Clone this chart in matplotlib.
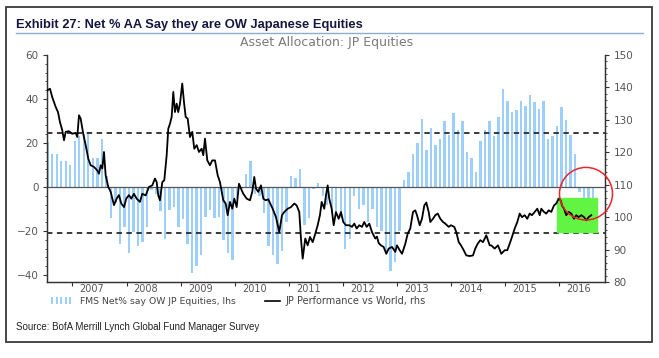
import numpy as np
import matplotlib
matplotlib.use("Agg")
import matplotlib.pyplot as plt
from matplotlib.patches import Rectangle, Ellipse
from matplotlib.lines import Line2D
from matplotlib.ticker import MultipleLocator

# ── Data ─────────────────────────────────────────────────────────────────────
# FMS net % say overweight Japanese equities, monthly from mid-2006 (lhs)
bar_start = 2006.542
bar_vals = [
    20.5, 15, 15, 12, 12, 10, 21, 23, 24, 25,
    13, 13, 22, 5, -14, -7.5, -26, -18, -30, -20.5,
    -27, -25, -18, -1.5, -3, -11, -23.5, -10.5, -9, -18,
    -14.5, -26, -39, -36, -31, -13.5, -10.5, -14, -13.5, -24,
    -30, -33, -5, -1, 6, 12, -3, -4, -12, -27,
    -31, -35, -29, -16, 5, 4, 8, -17.5, -14, -1,
    2, -4, -8, -12, -11, -14, -28, -23.5, -4, -10,
    -8, -16, -10, -18, -20, -29.5, -38, -34, -20, 3,
    6.8, 15, 20, 30.8, 16.7, 26.8, 19, 22, 30, 23.5,
    33.8, 25.8, 30, 16, 13, 6.8, 21, 25.8, 30, 23,
    31.8, 44.7, 39, 34, 35, 39, 37, 41.7, 38.6, 35.6,
    39, 22, 23, 27.6, 36.5, 30.6, 23.5, 15, -2.3, -5,
    -5, -5,
]

# JP performance vs World (rhs), decimal years
line_dates = [
    2006.534, 2006.584, 2006.626, 2006.689, 2006.732, 2006.769, 2006.811, 2006.843,
    2006.874, 2006.935, 2006.996, 2007.059, 2007.089, 2007.120, 2007.151, 2007.199,
    2007.244, 2007.292, 2007.336, 2007.397, 2007.458, 2007.490, 2007.521, 2007.551,
    2007.582, 2007.613, 2007.662, 2007.706, 2007.767, 2007.817, 2007.859, 2007.902,
    2007.952, 2007.994, 2008.044, 2008.087, 2008.136, 2008.186, 2008.247, 2008.290,
    2008.353, 2008.414, 2008.475, 2008.525, 2008.556, 2008.586, 2008.617, 2008.660,
    2008.697, 2008.741, 2008.771, 2008.802, 2008.833, 2008.863, 2008.894, 2008.926,
    2008.955, 2008.987, 2009.029, 2009.061, 2009.092, 2009.129, 2009.172, 2009.214,
    2009.251, 2009.296, 2009.338, 2009.388, 2009.418, 2009.449, 2009.492, 2009.541,
    2009.584, 2009.634, 2009.684, 2009.726, 2009.758, 2009.787, 2009.832, 2009.869,
    2009.911, 2009.954, 2009.991, 2010.035, 2010.078, 2010.114, 2010.157, 2010.220,
    2010.281, 2010.323, 2010.360, 2010.392, 2010.434, 2010.484, 2010.527, 2010.571,
    2010.619, 2010.700, 2010.761, 2010.822, 2010.872, 2010.915, 2010.978, 2011.039,
    2011.100, 2011.144, 2011.192, 2011.223, 2011.255, 2011.303, 2011.347, 2011.390,
    2011.440, 2011.488, 2011.532, 2011.574, 2011.606, 2011.654, 2011.685, 2011.717,
    2011.746, 2011.791, 2011.828, 2011.870, 2011.920, 2011.963, 2012.005, 2012.055,
    2012.116, 2012.166, 2012.209, 2012.253, 2012.301, 2012.351, 2012.393, 2012.438,
    2012.486, 2012.536, 2012.597, 2012.628, 2012.660, 2012.702, 2012.752, 2012.800,
    2012.845, 2012.906, 2012.967, 2012.998, 2013.048, 2013.091, 2013.152, 2013.196,
    2013.244, 2013.294, 2013.336, 2013.368, 2013.418, 2013.460, 2013.503, 2013.540,
    2013.584, 2013.614, 2013.664, 2013.706, 2013.751, 2013.799, 2013.849, 2013.891,
    2013.954, 2013.996, 2014.057, 2014.094, 2014.139, 2014.181, 2014.231, 2014.279,
    2014.342, 2014.403, 2014.445, 2014.490, 2014.538, 2014.588, 2014.649, 2014.712,
    2014.741, 2014.804, 2014.865, 2014.926, 2014.989, 2015.037, 2015.081, 2015.124,
    2015.174, 2015.222, 2015.266, 2015.308, 2015.358, 2015.406, 2015.451, 2015.493,
    2015.543, 2015.592, 2015.636, 2015.665, 2015.715, 2015.757, 2015.802, 2015.850,
    2015.900, 2015.942, 2015.987, 2016.024, 2016.048, 2016.085, 2016.127, 2016.172,
    2016.220, 2016.270, 2016.312, 2016.357, 2016.405, 2016.455, 2016.497, 2016.541,
    2016.589,
]
line_vals = [
    139.1, 139.6, 137.0, 134.0, 132.4, 129.3, 126.8, 123.7,
    126.3, 126.5, 125.7, 126.0, 124.7, 131.4, 130.4, 125.7,
    122.2, 118.0, 116.0, 115.5, 114.4, 113.4, 116.0, 115.0,
    120.1, 112.9, 109.3, 107.8, 103.7, 105.7, 106.8, 104.2,
    103.1, 105.7, 106.8, 105.7, 107.2, 105.7, 104.7, 107.2,
    106.7, 109.3, 109.8, 111.9, 110.8, 106.7, 105.2, 110.8,
    111.4, 119.1, 127.3, 128.8, 130.9, 138.6, 132.4, 135.0,
    132.4, 135.0, 141.2, 135.5, 130.9, 130.4, 124.7, 126.3,
    121.1, 122.2, 120.1, 121.1, 119.1, 124.2, 117.5, 116.0,
    117.5, 117.5, 112.9, 110.8, 107.8, 105.2, 104.2, 100.6,
    104.7, 102.6, 105.7, 103.1, 110.3, 108.8, 107.2, 105.7,
    105.2, 107.8, 112.4, 108.8, 107.8, 109.8, 105.7, 105.2,
    105.5, 102.6, 100.0, 95.4, 100.6, 101.6, 102.6, 103.1,
    104.2, 103.6, 101.6, 93.4, 87.2, 93.4, 91.3, 93.9,
    92.3, 94.9, 97.5, 100.6, 104.7, 102.6, 106.7, 109.8,
    105.7, 102.6, 97.5, 101.6, 99.5, 101.6, 98.5, 97.5,
    97.5, 97.0, 98.0, 96.5, 97.5, 97.0, 98.5, 97.0,
    98.0, 95.4, 93.4, 94.0, 92.0, 91.3, 90.8, 88.7,
    90.3, 90.8, 89.3, 91.3, 89.8, 88.7, 91.8, 94.9,
    96.5, 101.6, 102.1, 100.6, 97.5, 99.5, 103.6, 104.5,
    101.6, 98.5, 99.5, 100.6, 101.1, 99.5, 98.5, 98.0,
    97.0, 97.5, 97.0, 95.4, 92.3, 91.3, 89.8, 88.2,
    88.0, 88.2, 90.3, 91.8, 92.9, 92.3, 94.4, 91.3,
    91.3, 90.3, 91.3, 88.7, 89.8, 89.8, 91.8, 93.9,
    96.5, 98.5, 101.1, 100.0, 100.6, 99.5, 101.1, 100.6,
    101.6, 102.6, 100.6, 102.6, 101.6, 101.1, 102.1, 101.6,
    103.6, 104.2, 105.7, 105.2, 103.6, 102.6, 100.6, 101.6,
    101.1, 99.5, 100.6, 100.0, 100.6, 100.0, 99.0, 100.0,
    100.6,
]

years = list(range(2007, 2017))
band_hi, band_lo = 24.5, -21.0          # dashed lines (lhs)
highlight = (2015.965, 2016.695, 95.4, 105.9)  # green box: x0, x1, y0, y1 (rhs)

BAR_C = "#9dcffa"

# ── Figure ───────────────────────────────────────────────────────────────────
W, H = 659, 358
fig = plt.figure(figsize=(W / 100, H / 100), dpi=100)
renderer = fig.canvas.get_renderer()


def fx(x):
    return x / W


def fy(y):
    return 1 - y / H


def fit(t, width_px):
    """ajusta o tamanho da fonte para a largura medida na referência"""
    w = t.get_window_extent(renderer).width
    t.set_fontsize(t.get_fontsize() * width_px / w)


# outer frame + header
fig.add_artist(Rectangle((fx(6), fy(342)), fx(652) - fx(6), fy(7) - fy(342),
                         transform=fig.transFigure, fill=False,
                         edgecolor="#3a3a3a", lw=1.3))
title = fig.text(fx(16), fy(25), "Exhibit 27: Net % AA Say they are OW Japanese Equities",
                 fontsize=10, fontweight="bold", color="#161640",
                 family="Liberation Sans", ha="left", va="center")
fit(title, 349)
fig.add_artist(Line2D([fx(16), fx(643)], [fy(32.5), fy(32.5)],
                      transform=fig.transFigure, color="#8eaad6", lw=1))
fig.text(fx(327), fy(42.5), "Asset Allocation: JP Equities", fontsize=9,
         color="#7a7a7a", ha="center", va="center")
src = fig.text(fx(16), fy(327), "Source: BofA Merrill Lynch Global Fund Manager Survey",
               fontsize=8, color="#222222", family="Liberation Sans",
               ha="left", va="center")
fit(src, 248)

# ── Axes ─────────────────────────────────────────────────────────────────────
ax = fig.add_axes([fx(47), fy(282), fx(605) - fx(47), fy(55) - fy(282)])
ax2 = ax.twinx()

bar_x = bar_start + np.arange(len(bar_vals)) / 12
ax.bar(bar_x, bar_vals, width=0.045, color=BAR_C, zorder=2)
ax.axhline(0, color="#555555", lw=0.9, zorder=3)
for lvl in (band_hi, band_lo):
    ax.axhline(lvl, color="#2a2a2a", lw=1.3, ls=(0, (3, 2.5)), zorder=3)

x0, x1, y0, y1 = highlight
ax2.add_patch(Rectangle((x0, y0), x1 - x0, y1 - y0, color="#62f442", zorder=1))
ax2.plot(line_dates, line_vals, color="black", lw=1.3, zorder=4)

ax.set_xlim(2006.529, 2016.843)
ax.set_ylim(-43.2, 60)
ax2.set_ylim(80, 150)

for a in (ax, ax2):
    a.spines["top"].set_visible(False)
    for s in ("left", "right", "bottom"):
        a.spines[s].set_color("#333333")
        a.spines[s].set_linewidth(0.9)

ax.set_yticks([-40, -20, 0, 20, 40, 60])
ax.yaxis.set_minor_locator(MultipleLocator(4))
ax2.set_yticks(range(80, 151, 10))
ax2.yaxis.set_minor_locator(MultipleLocator(2))
for a in (ax, ax2):
    a.tick_params(axis="y", which="major", length=3, width=0.8, color="#333333",
                  labelsize=7.5, labelcolor="#555555", pad=3)
    a.tick_params(axis="y", which="minor", length=1.6, width=0.6, color="#333333")

ax.set_xticks(years)
ax.set_xticklabels([])
ax.set_xticks([y + 0.36 for y in years], minor=True)
ax.set_xticklabels([str(y) for y in years], minor=True)
ax.tick_params(axis="x", which="major", length=3, width=0.8, color="#333333")
ax.tick_params(axis="x", which="minor", length=0, labelsize=7,
               labelcolor="#555555", pad=1.5)

# ── Legend (drawn by hand) ───────────────────────────────────────────────────
for i in range(5):
    fig.add_artist(Rectangle((fx(51 + i * 4.5), fy(304)), fx(2), fy(297) - fy(304),
                             transform=fig.transFigure, color=BAR_C, lw=0))
leg1 = fig.text(fx(80), fy(301), "FMS Net% say OW JP Equities, lhs", fontsize=6,
                color="#444444", ha="left", va="center")
fit(leg1, 158)
fig.add_artist(Line2D([fx(265), fx(280)], [fy(301), fy(301)],
                      transform=fig.transFigure, color="black", lw=1.2))
leg2 = fig.text(fx(285), fy(301), "JP Performance vs World, rhs", fontsize=6,
                color="#444444", ha="left", va="center")
fit(leg2, 142)

# red circle annotation
fig.add_artist(Ellipse((fx(586), fy(193.7)), fx(53), 52.6 / H,
                       transform=fig.transFigure, fill=False,
                       edgecolor="#e8262b", lw=1.1))

plt.savefig("out.png", dpi=100)
plt.close()
